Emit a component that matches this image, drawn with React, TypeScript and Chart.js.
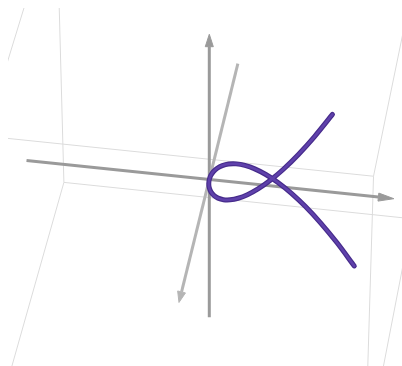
import { useEffect, useRef } from "react";
import { Chart, registerables } from "chart.js";

Chart.register(...registerables);

// Space curve samples (x, y, z) of a twisted cubic
const curveX = [-1.702, -1.587, -1.472, -1.357, -1.242, -1.127, -1.012, -0.897, -0.782, -0.667, -0.552, -0.437, -0.322, -0.207, -0.104, 0, 0.104, 0.207, 0.322, 0.437, 0.552, 0.667, 0.782, 0.897, 1.012, 1.127, 1.242, 1.357, 1.472, 1.587, 1.702];
const curveY = [2.19, 1.904, 1.638, 1.392, 1.166, 0.96, 0.774, 0.608, 0.462, 0.336, 0.23, 0.144, 0.078, 0.032, 0.008, 0, 0.008, 0.032, 0.078, 0.144, 0.23, 0.336, 0.462, 0.608, 0.774, 0.96, 1.166, 1.392, 1.638, 1.904, 2.19];
const curveZ = [-3.047, -2.47, -1.971, -1.544, -1.184, -0.885, -0.641, -0.446, -0.296, -0.183, -0.104, -0.052, -0.021, -0.005, -0.001, 0, 0.001, 0.005, 0.021, 0.052, 0.104, 0.183, 0.296, 0.446, 0.641, 0.885, 1.184, 1.544, 1.971, 2.47, 3.047];

// Coordinate axes run from axisRange[0] to axisRange[1]; the cone starts at arrowStart
const axisRange = [-3, 3];
const arrowStart = 2.75;
const arrowRadius = 0.065;

// Bounding box of the scene
const boxRange = [-3, 3];

const DEG = Math.PI / 180;
const camera = { yaw: 9.1 * DEG, pitch: 40.5 * DEG, distance: 75, zoom: 62, originX: 209.3, originY: 179.5 };
const frame = { left: 8, top: 8, width: 394, height: 358 };

type P = { x: number; y: number };

// Perspective projection: y runs to the right, x toward the viewer, z up
function project(x: number, y: number, z: number): P {
  const X = y, D = x, Z = z;
  const sp = Math.sin(camera.yaw), cp = Math.cos(camera.yaw);
  const st = Math.sin(camera.pitch), ct = Math.cos(camera.pitch);
  const right = X * cp - D * sp;
  const up = -X * sp * st - D * cp * st + Z * ct;
  const depth = X * sp * ct + D * cp * ct + Z * st;
  const m = camera.distance / (camera.distance - depth);
  return { x: camera.originX + camera.zoom * m * right, y: camera.originY - camera.zoom * m * up };
}

function cone(tip: P, base: P, r: number): P[] {
  const dx = tip.x - base.x, dy = tip.y - base.y;
  const len = Math.hypot(dx, dy) || 1;
  const nx = -dy / len, ny = dx / len;
  const a = { x: base.x + nx * r, y: base.y + ny * r };
  const b = { x: base.x - nx * r, y: base.y - ny * r };
  return [a, tip, b, a];
}

export default function App() {
  const ref = useRef<HTMLCanvasElement | null>(null);

  useEffect(() => {
    if (!ref.current) return;
    const datasets: any[] = [];

    // box edges
    const corners = [boxRange[0], boxRange[1]];
    for (let axis = 0; axis < 3; axis++) {
      for (const a of corners) {
        for (const b of corners) {
          const p0 = [0, 0, 0], p1 = [0, 0, 0];
          const others = [0, 1, 2].filter((k) => k !== axis);
          p0[axis] = boxRange[0];
          p1[axis] = boxRange[1];
          p0[others[0]] = a; p1[others[0]] = a;
          p0[others[1]] = b; p1[others[1]] = b;
          datasets.push({
            data: [project(p0[0], p0[1], p0[2]), project(p1[0], p1[1], p1[2])],
            showLine: true,
            borderColor: "#dcdcdc",
            borderWidth: 1,
            pointRadius: 0,
            order: 10,
          });
        }
      }
    }

    // coordinate axes with arrow cones
    const axisColors = ["#b5b5b5", "#9a9a9a", "#9a9a9a"];
    for (let axis = 0; axis < 3; axis++) {
      const at = (v: number) => {
        const p = [0, 0, 0];
        p[axis] = v;
        return project(p[0], p[1], p[2]);
      };
      datasets.push({
        data: [at(axisRange[0]), at(arrowStart)],
        showLine: true,
        borderColor: axisColors[axis],
        borderWidth: 3,
        pointRadius: 0,
        order: 5,
      });
      datasets.push({
        data: cone(at(axisRange[1]), at(arrowStart), arrowRadius * camera.zoom),
        showLine: true,
        borderColor: axisColors[axis],
        backgroundColor: axisColors[axis],
        borderWidth: 1,
        fill: "shape",
        pointRadius: 0,
        order: 4,
      });
    }

    // the curve, drawn as a shaded tube
    const curve = curveX.map((x, i) => project(x, curveY[i], curveZ[i]));
    datasets.push({
      data: curve,
      showLine: true,
      borderColor: "#472c8c",
      borderWidth: 5,
      tension: 0.3,
      borderCapStyle: "round",
      borderJoinStyle: "round",
      pointRadius: 0,
      order: 2,
    });
    datasets.push({
      data: curve,
      showLine: true,
      borderColor: "#5f41ab",
      borderWidth: 2.6,
      tension: 0.3,
      borderCapStyle: "round",
      borderJoinStyle: "round",
      pointRadius: 0,
      order: 1,
    });

    const chart = new Chart(ref.current, {
      type: "scatter",
      data: { datasets },
      options: {
        animation: false,
        responsive: false,
        events: [],
        layout: { padding: 0 },
        plugins: { legend: { display: false }, tooltip: { enabled: false } },
        scales: {
          x: { type: "linear", display: false, min: frame.left, max: frame.left + frame.width },
          y: { type: "linear", display: false, reverse: true, min: frame.top, max: frame.top + frame.height },
        },
      },
    });
    return () => chart.destroy();
  }, []);

  return (
    <div style={{ position: "fixed", left: frame.left, top: frame.top, width: frame.width, height: frame.height, background: "#fff" }}>
      <canvas ref={ref} width={frame.width} height={frame.height} style={{ display: "block" }} />
    </div>
  );
}
